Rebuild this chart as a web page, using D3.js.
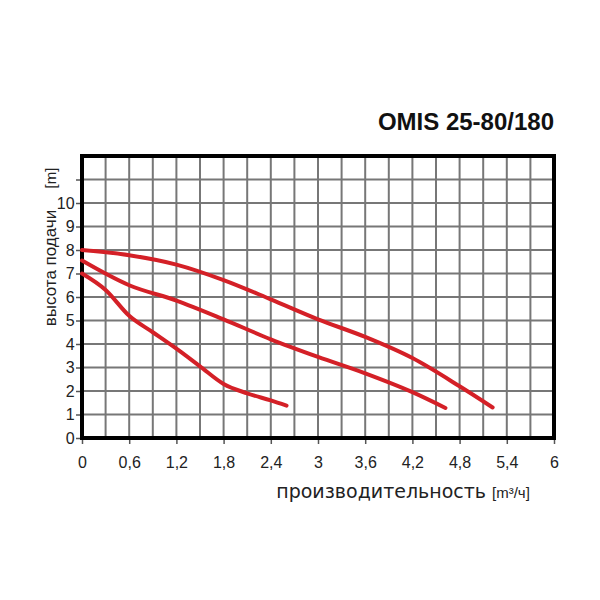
<!DOCTYPE html><html><head><meta charset="utf-8"><script src="https://cdn.jsdelivr.net/npm/d3@7"></script>
<style>body{margin:0;background:#fff}</style></head><body><svg id="c" width="600" height="600"></svg><script>
const title = "OMIS 25-80/180";
const xTicks = [0,0.6,1.2,1.8,2.4,3,3.6,4.2,4.8,5.4,6];
const yTicks = [0,1,2,3,4,5,6,7,8,9,10];
const curveTop = [[0,8],[0.6,7.78],[1.2,7.38],[1.8,6.72],[2.4,5.9],[3,5.05],[3.6,4.3],[4.2,3.4],[4.8,2.2],[5.22,1.3]];
const curveMid = [[0,7.55],[0.6,6.5],[1.2,5.85],[1.8,5.05],[2.4,4.2],[3,3.45],[3.6,2.75],[4.2,1.95],[4.62,1.28]];
const curveLow = [[0,7.0],[0.3,6.3],[0.6,5.2],[0.9,4.5],[1.2,3.8],[1.5,3.05],[1.8,2.3],[2.1,1.9],[2.4,1.6],[2.6,1.38]];
const svg = d3.select("#c");
const x = d3.scaleLinear().domain([0,6]).range([82,554]);
const y = d3.scaleLinear().domain([0,12]).range([438,156]);
const g = svg.append("g");
// grid
g.selectAll(".vg").data(d3.range(1,20).map(i=>i*0.3)).join("line")
 .attr("x1",d=>x(d)).attr("x2",d=>x(d)).attr("y1",y(0)).attr("y2",y(12)).attr("stroke","#777").attr("stroke-width",2);
g.selectAll(".hg").data(d3.range(1,12)).join("line")
 .attr("y1",d=>y(d)).attr("y2",d=>y(d)).attr("x1",x(0)).attr("x2",x(6)).attr("stroke","#777").attr("stroke-width",2);
// axes
const xa = svg.append("g").attr("transform",`translate(0,${y(0)})`).call(d3.axisBottom(x).tickValues(xTicks).tickSize(6).tickFormat(d=>String(d).replace(".",",")));
const ya = svg.append("g").attr("transform",`translate(${x(0)},0)`).call(d3.axisLeft(y).tickValues(d3.range(0,12)).tickSize(6).tickFormat(d=>d<=10?d:""));
[xa,ya].forEach(a=>{a.select(".domain").remove();a.selectAll("line").attr("stroke","#555").attr("stroke-width",1.5);
 a.selectAll("text").attr("font-family","Liberation Sans, Arial").attr("font-size",16).attr("fill","#222");});
xa.selectAll("text").attr("dy","1.3em");
ya.selectAll("text").attr("dx","0.1em");
// frame
svg.append("rect").attr("x",x(0)).attr("y",y(12)).attr("width",x(6)-x(0)).attr("height",y(0)-y(12)).attr("fill","none").attr("stroke","#000").attr("stroke-width",4);
// curves
const line = d3.line().x(d=>x(d[0])).y(d=>y(d[1])).curve(d3.curveMonotoneX);
[curveTop,curveMid,curveLow].forEach(c=>svg.append("path").attr("d",line(c)).attr("fill","none").attr("stroke","#d42027").attr("stroke-width",4).attr("stroke-linecap","round"));
// texts
svg.append("text").attr("x",554).attr("y",130).attr("text-anchor","end").attr("font-family","Liberation Sans, Arial").attr("font-weight","bold").attr("font-size",24).attr("fill","#111").text(title);
svg.append("text").attr("transform","translate(56,268) rotate(-90)").attr("text-anchor","middle").attr("font-family","Liberation Sans, Arial").attr("font-size",17).attr("fill","#222").text("высота подачи");
svg.append("text").attr("transform","translate(56,178) rotate(-90)").attr("text-anchor","middle").attr("font-family","Liberation Sans, Arial").attr("font-size",15).attr("fill","#222").text("[m]");
svg.append("text").attr("x",486).attr("y",498).attr("text-anchor","end").attr("font-family","DejaVu Sans").attr("font-size",19).attr("fill","#222").text("производительность");
svg.append("text").attr("x",492).attr("y",498).attr("font-family","Liberation Sans, Arial").attr("font-size",15).attr("fill","#222").text("[m³/ч]");
</script></body></html>
